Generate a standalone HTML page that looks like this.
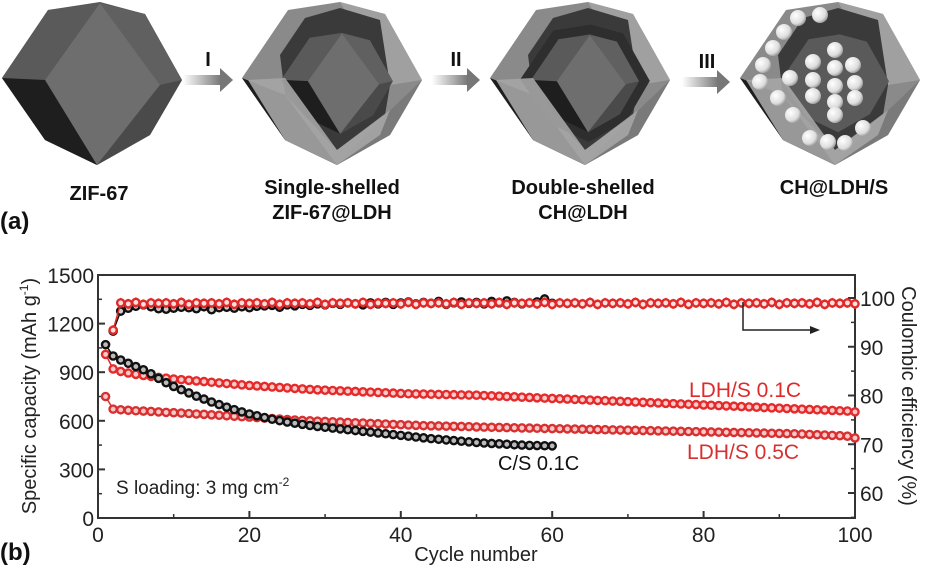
<!DOCTYPE html>
<html><head><meta charset="utf-8"><style>
html,body{margin:0;padding:0;background:#fff;}
svg{display:block;font-family:"Liberation Sans",Arial,sans-serif;}
</style></head><body>
<svg width="925" height="567" viewBox="0 0 925 567">
<defs>
<linearGradient id="arr" x1="0" x2="1"><stop offset="0" stop-color="#fff"/><stop offset="1" stop-color="#777"/></linearGradient>
<radialGradient id="ball" cx="0.35" cy="0.35" r="0.7"><stop offset="0" stop-color="#fff"/><stop offset="0.7" stop-color="#ddd"/><stop offset="1" stop-color="#999"/></radialGradient>
<g id="poly">
<polygon points="48,10 100,2 145,14 182,80 150,135 97,165 45,140 2,78" fill="#555"/>
<polygon points="100,3 45,80 97,165 160,85" fill="#6e6e6e"/>
<polygon points="100,3 48,10 2,78 45,80" fill="#5a5a5a"/>
<polygon points="2,78 45,80 97,165 45,140" fill="#1e1e1e"/>
<polygon points="100,3 145,14 182,80 160,85" fill="#606060"/>
<polygon points="160,85 182,80 150,135 97,165" fill="#4a4a4a"/>
</g>
<g id="shell">
<polygon points="48,10 100,2 145,14 182,80 150,135 97,165 45,140 2,78" fill="#8a8a8a"/>
<polygon points="2,78 45,95 97,165 45,140" fill="#1e1e1e"/>
<polygon points="100,2 145,14 182,80 150,85" fill="#a0a0a0"/>
<polygon points="182,80 150,135 97,165 140,120" fill="#7a7a7a"/>
<polygon points="65,18 100,8 140,20 150,85 145,115 97,150 45,95 40,55" fill="#3a3a3a"/>
</g>
</defs>

<g>
<g><use href="#poly"/></g>
<g transform="translate(240,0)">
<use href="#shell"/>
<g transform="translate(97,83) scale(0.62) translate(-92,-83)"><use href="#poly"/></g>
<polygon points="8,80 45,78 97,150 150,110 140,135 97,165 45,140" fill="#a5a5a5" opacity="0.9"/>
</g>
<g transform="translate(488,0)">
<use href="#shell"/>
<g transform="translate(97,83) scale(0.72) translate(-92,-83)"><polygon points="48,10 100,2 145,14 182,80 150,135 97,165 45,140 2,78" fill="#2e2e2e"/></g>
<g transform="translate(97,83) scale(0.6) translate(-92,-83)"><use href="#poly"/></g>
<polygon points="8,80 45,78 97,150 150,110 140,135 97,165 45,140" fill="#a5a5a5" opacity="0.9"/>
</g>
<g transform="translate(738,0)">
<use href="#shell"/>
<g transform="translate(97,83) scale(0.6) translate(-92,-83)"><polygon points="48,10 100,2 145,14 182,80 150,135 97,165 45,140 2,78" fill="#5a5a5a"/></g>
<polygon points="8,80 45,78 97,150 150,110 140,135 97,165 45,140" fill="#a5a5a5" opacity="0.9"/>
<g fill="url(#ball)">
<circle cx="60" cy="18" r="8"/><circle cx="82" cy="15" r="8"/><circle cx="46" cy="32" r="8"/><circle cx="35" cy="48" r="8"/><circle cx="25" cy="65" r="8"/><circle cx="22" cy="82" r="8"/><circle cx="40" cy="98" r="8"/><circle cx="55" cy="115" r="8"/><circle cx="72" cy="138" r="8"/><circle cx="90" cy="142" r="8"/><circle cx="107" cy="143" r="8"/><circle cx="125" cy="128" r="8"/>
<circle cx="97" cy="50" r="8"/><circle cx="75" cy="62" r="8"/><circle cx="97" cy="68" r="8"/><circle cx="115" cy="65" r="8"/><circle cx="52" cy="78" r="8"/><circle cx="75" cy="80" r="8"/><circle cx="97" cy="86" r="8"/><circle cx="117" cy="83" r="8"/><circle cx="75" cy="96" r="8"/><circle cx="97" cy="102" r="8"/><circle cx="117" cy="98" r="8"/><circle cx="97" cy="115" r="8"/>
</g>
</g>
<g>
<rect x="183" y="75" width="38" height="10" fill="url(#arr)"/><polygon points="220,68 233,80 220,92" fill="#777"/>
<rect x="432" y="75" width="36" height="10" fill="url(#arr)"/><polygon points="467,68 480,80 467,92" fill="#777"/>
<rect x="682" y="77" width="36" height="10" fill="url(#arr)"/><polygon points="717,70 730,82 717,94" fill="#777"/>
</g>
<g font-weight="bold" font-size="20" fill="#111" text-anchor="middle">
<text x="208" y="66">I</text>
<text x="456" y="66">II</text>
<text x="707" y="68">III</text>
<text x="99" y="200">ZIF-67</text>
<text x="332" y="194">Single-shelled</text>
<text x="332" y="219">ZIF-67@LDH</text>
<text x="583" y="194">Double-shelled</text>
<text x="583" y="219">CH@LDH</text>
<text x="834" y="194">CH@LDH/S</text>
</g>
<text x="0" y="229" font-size="24" font-weight="bold" fill="#111">(a)</text>
</g>

<text x="0" y="560" font-size="24" font-weight="bold" fill="#111">(b)</text>
<g id="chart"></g>
</svg>
<script>
const xTicks = [0, 20, 40, 60, 80, 100];
const yLeftTicks = [0, 300, 600, 900, 1200, 1500];
const yRightTicks = [60, 70, 80, 90, 100];
const csCapacity = [1070,1000,975,955,935,915,890,862,835,812,792,772,752,734,716,700,684,669,655,642,631,620,610,601,592,585,578,571,565,560,555,550,545,540,535,530,525,520,515,510,505,500,495,490,486,482,478,474,470,466,463,460,458,455,452,450,448,447,446,445];
const ldh01Capacity = [1010,920,905,895,887,880,874,868,863,858,854,850,846,842,838,834,830,826,822,818,815,812,809,806,803,800,797,794,791,789,787,785,783,781,779,777,775,773,771,769,767,766,765,764,763,762,761,760,759,758,756,754,752,750,748,746,744,742,740,738,736,734,732,730,728,726,724,722,720,718,716,714,712,710,708,706,704,702,700,698,696,694,692,690,688,686,684,682,680,678,676,674,672,670,668,666,664,662,660,655];
const ldh05Capacity = [750,672,668,665,662,660,658,655,652,650,648,645,642,640,637,634,631,628,625,623,620,617,614,611,608,605,602,600,598,596,594,592,590,588,586,584,582,580,578,576,574,572,570,569,568,567,566,565,564,562,561,560,559,558,557,556,555,554,553,552,551,550,549,548,547,546,545,544,543,542,541,540,539,538,537,536,535,534,533,532,531,530,529,528,527,526,525,524,523,522,521,520,518,516,514,512,510,508,505,494];
const csCE = [null,93.2,97.3,97.9,98.3,98.6,98.2,97.8,97.7,97.9,98.1,98.0,97.8,98.2,97.6,98.0,98.1,97.9,98.2,98.0,98.3,98.4,98.5,98.1,98.6,98.4,98.7,98.5,98.8,98.6,98.9,98.7,99.0,98.8,98.6,99.0,98.8,99.1,98.7,99.0,99.2,98.8,99.1,98.9,99.3,98.7,99.0,99.2,98.9,99.1,98.8,99.3,99.0,99.4,99.1,98.8,99.0,99.2,99.8,98.9];
const ldhCE = [null,93.4].concat(Array.from({length:98},(_,i)=>[99.0,98.8,99.1,98.7,99.0,98.9][i%6]));

const NS='http://www.w3.org/2000/svg';
const chart=document.getElementById('chart');
const L=98,R=855,T=275,B=518;
const xs=v=>L+(v/100)*(R-L);
const yl=v=>B-(v/1500)*(B-T);
const yr=v=>493-(v-60)*4.875;
function mk(tag,attrs,parent){const e=document.createElementNS(NS,tag);for(const k in attrs)e.setAttribute(k,attrs[k]);(parent||chart).appendChild(e);return e;}

const frame=mk('rect',{x:L,y:T,width:R-L,height:B-T,fill:'none',stroke:'#333','stroke-width':2});


xTicks.forEach(v=>{
  const t=mk('line',{x1:xs(v),x2:xs(v),y1:B,y2:B-7,stroke:'#333','stroke-width':2});
  
  
  const lb=mk('text',{x:xs(v),y:B+24,'font-size':21,'text-anchor':'middle',fill:'#222'});
  lb.textContent=v;
  
  
  if(v<100){const m=mk('line',{x1:xs(v+10),x2:xs(v+10),y1:B,y2:B-4,stroke:'#333','stroke-width':1.5});
  
  }
});
yLeftTicks.forEach(v=>{
  const t=mk('line',{x1:L,x2:L+7,y1:yl(v),y2:yl(v),stroke:'#333','stroke-width':2});
  
  
  const lb=mk('text',{x:L-4,y:yl(v)+8,'font-size':21,'text-anchor':'end',fill:'#222'});
  lb.textContent=v;
  
  
  if(v<1500){const m=mk('line',{x1:L,x2:L+4,y1:yl(v+150),y2:yl(v+150),stroke:'#333','stroke-width':1.5});
  
  }
});
yRightTicks.forEach(v=>{
  const t=mk('line',{x1:R,x2:R-7,y1:yr(v),y2:yr(v),stroke:'#333','stroke-width':2});
  
  
  const lb=mk('text',{x:R+5,y:yr(v)+8,'font-size':21,fill:'#222'});
  lb.textContent=v;
  
  
  const m=mk('line',{x1:R,x2:R-4,y1:yr(v-5),y2:yr(v-5),stroke:'#333','stroke-width':1.5});
  
  
});

function series(vals,yf,stroke,fill,name,bar){
  const g=mk('g',{});
  
  
  let d='';
  vals.forEach((v,i)=>{if(v==null)return;d+=(d?'L':'M')+xs(i+1)+','+yf(v);});
  mk('path',{d:d,fill:'none',stroke:stroke,'stroke-width':1.5},g);
  vals.forEach((v,i)=>{if(v==null)return;
    if(bar){mk('line',{x1:xs(i+1),x2:xs(i+1),y1:yf(v)-5,y2:yf(v)+5,stroke:stroke,'stroke-width':1.5},g);}
    const c=mk('circle',{cx:xs(i+1),cy:yf(v),r:3.6,fill:fill,stroke:stroke,'stroke-width':2.4},g);
    
    
  });
}
series(csCE,yr,'#111','#ccc','cs-coulombic-efficiency',false);
series(ldhCE,yr,'#e02a2a','#fbe0e0','ldh-coulombic-efficiency',true);
series(ldh05Capacity,yl,'#d83030','#f6c8c8','ldh-05c-capacity',false);
series(ldh01Capacity,yl,'#e42a2a','#f8caca','ldh-01c-capacity',false);
series(csCapacity,yl,'#111','#bbb','cs-01c-capacity',false);

const ar=mk('path',{d:'M743,302 L743,330 L812,330',fill:'none',stroke:'#222','stroke-width':1.5});


const ah=mk('polygon',{points:'810,326 820,330 810,334',fill:'#222'});



function txt(x,y,s,attrs,name){const t=mk('text',Object.assign({x:x,y:y},attrs));t.textContent=s;
  
  return t;}
txt(689,397,'LDH/S 0.1C',{'font-size':21,fill:'#e02a2a'},'ldh-01c-label');
txt(687,459,'LDH/S 0.5C',{'font-size':21,fill:'#d83030'},'ldh-05c-label');
txt(498,470,'C/S 0.1C',{'font-size':20,fill:'#111'},'cs-01c-label');
const sl=txt(116,494,'S loading: 3 mg cm',{'font-size':19,fill:'#222'},'s-loading-note');
const sup=mk('tspan',{dy:-8,'font-size':12},sl);sup.textContent='-2';
txt(476,561,'Cycle number',{'font-size':20,fill:'#222','text-anchor':'middle'},'x-axis-title');
const yt=txt(0,0,'Specific capacity (mAh g',{'font-size':20,fill:'#222','text-anchor':'middle',transform:'translate(36,396) rotate(-90)'},'y-left-axis-title');
const s1=mk('tspan',{dy:-8,'font-size':12},yt);s1.textContent='-1';
const s2=mk('tspan',{dy:8},yt);s2.textContent=')';
txt(0,0,'Coulombic efficiency (%)',{'font-size':20,fill:'#222','text-anchor':'middle',transform:'translate(902,396) rotate(90)'},'y-right-axis-title');
</script>
</body></html>
